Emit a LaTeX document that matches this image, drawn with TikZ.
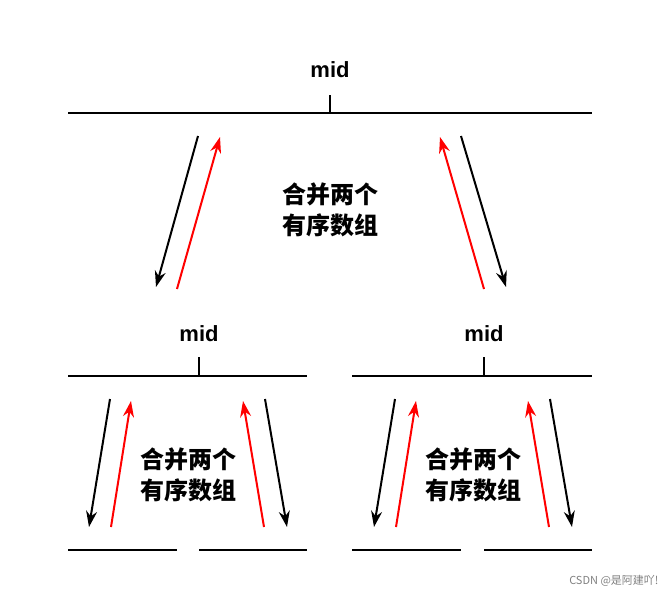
\documentclass[tikz,border=0pt]{standalone}
\usepackage{fontspec}
\setmainfont{Liberation Sans}
\newfontfamily\cjk{Noto Sans CJK SC}
\usetikzlibrary{arrows.meta}
\begin{document}
\begin{tikzpicture}[x=1pt,y=-1pt,>={Stealth[length=16pt,width=11pt]},
    seg/.style={line width=2pt},
    down arrow/.style={->,line width=2pt,black},
    up arrow/.style={->,line width=2pt,red},
    mid label/.style={font=\fontsize{22}{26}\selectfont\bfseries},
    merge label/.style={font=\cjk\fontsize{24}{31}\selectfont\bfseries,align=center}]
  \useasboundingbox (0,0) rectangle (667,595);

  % top level
  \coordinate (t1) at (68,113); \coordinate (t2) at (592,113);
  \draw[seg] (t1) -- (t2);
  \draw[seg] (330,113) -- (330,95);
  \node[mid label] (m0) at (330,70) {mid};
  \draw[down arrow] (198,136) -- (156,287);
  \draw[up arrow] (177,289) -- (220,137);
  \draw[up arrow] (484,289) -- (440,137);
  \draw[down arrow] (461,136) -- (506,287);
  \node[merge label] (c0) at (330,210) {合并两个\\有序数组};

  % second level
  \draw[seg] (68,376) -- (307,376);
  \draw[seg] (199,376) -- (199,357);
  \node[mid label] (m1) at (199,334) {mid};
  \draw[seg] (352,376) -- (592,376);
  \draw[seg] (484,376) -- (484,357);
  \node[mid label] (m2) at (484,334) {mid};

  \foreach \dx in {0,285}{
    \draw[down arrow] (110+\dx,399) -- (89+\dx,527);
    \draw[up arrow] (111+\dx,527) -- (131+\dx,401);
    \draw[up arrow] (264+\dx,527) -- (243+\dx,401);
    \draw[down arrow] (265+\dx,399) -- (287+\dx,527);
    \node[merge label] at (188+\dx,475) {合并两个\\有序数组};
  }

  % bottom level
  \draw[seg] (68,550) -- (177,550);
  \draw[seg] (199,550) -- (307,550);
  \draw[seg] (352,550) -- (461,550);
  \draw[seg] (484,550) -- (592,550);

  \node[text=gray,font=\cjk\fontsize{11}{13}\selectfont,anchor=east] (wm) at (662,581) {CSDN @是阿建吖!};
\end{tikzpicture}
\end{document}
